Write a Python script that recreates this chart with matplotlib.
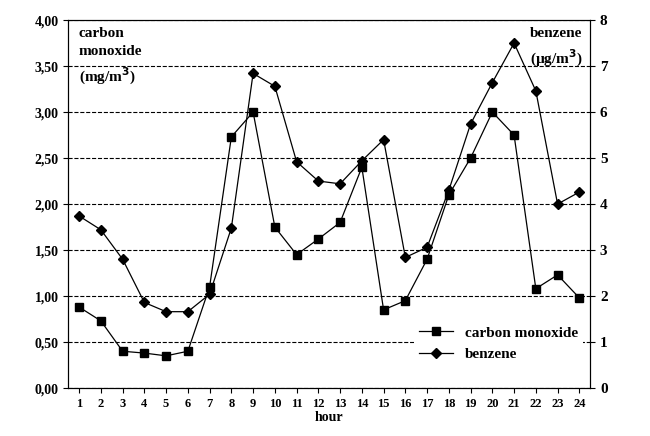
import matplotlib.pyplot as plt
from matplotlib.ticker import FuncFormatter

hours = list(range(1, 25))
co = [0.88, 0.73, 0.40, 0.38, 0.35, 0.40, 1.10, 2.73, 3.00, 1.75, 1.45, 1.62,
      1.80, 2.40, 0.85, 0.95, 1.40, 2.10, 2.50, 3.00, 2.75, 1.08, 1.23, 0.98]
benzene = [3.74, 3.44, 2.80, 1.86, 1.66, 1.66, 2.04, 3.48, 6.84, 6.56, 4.92, 4.50,
           4.44, 4.94, 5.40, 2.84, 3.06, 4.30, 5.74, 6.64, 7.50, 6.46, 4.00, 4.26]

plt.rcParams['font.family'] = ['Liberation Serif', 'DejaVu Serif']
plt.rcParams['font.weight'] = 'bold'
plt.rcParams['mathtext.default'] = 'bf'

fig = plt.figure(figsize=(6.5, 4.36), dpi=100)
ax = fig.add_axes([0.105, 0.11, 0.803, 0.844])
ax2 = ax.twinx()

ax.plot(hours, co, color='black', lw=0.9, marker='s', ms=6, label='carbon monoxide')
ax2.plot(hours, benzene, color='black', lw=0.9, marker='D', ms=5, label='benzene')

ax.set_xlim(0.5, 24.5)
ax.set_ylim(0, 4)
ax2.set_ylim(0, 8)
ax.set_xticks(hours)
ax.set_yticks([i * 0.5 for i in range(9)])
ax.yaxis.set_major_formatter(FuncFormatter(lambda v, p: f'{v:.2f}'.replace('.', ',')))
ax.grid(axis='y', linestyle='--', color='black', lw=0.8)
ax.tick_params(axis='both', labelsize=10, direction='out')
ax2.tick_params(axis='y', labelsize=11)
ax.tick_params(axis='x', labelsize=9)
ax.set_xlabel('hour', fontsize=10, fontweight='bold', labelpad=1)

ax.text(0.02, 0.98, 'carbon\nmonoxide\n(mg/m$^3$)', transform=ax.transAxes, va='top',
        fontsize=11, fontweight='bold', linespacing=1.5)
ax.text(0.985, 0.98, 'benzene\n(\u00b5g/m$^3$)', transform=ax.transAxes, va='top', ha='right',
        fontsize=11, fontweight='bold', linespacing=1.5)

h1, l1 = ax.get_legend_handles_labels()
h2, l2 = ax2.get_legend_handles_labels()
leg = ax2.legend(h1 + h2, l1 + l2, loc='lower right', bbox_to_anchor=(1.0, 0.04),
                 frameon=True, fancybox=False, edgecolor='none', framealpha=1,
                 fontsize=11, handlelength=2.2, borderpad=0.3)

fig.savefig('out.png', dpi=100)
